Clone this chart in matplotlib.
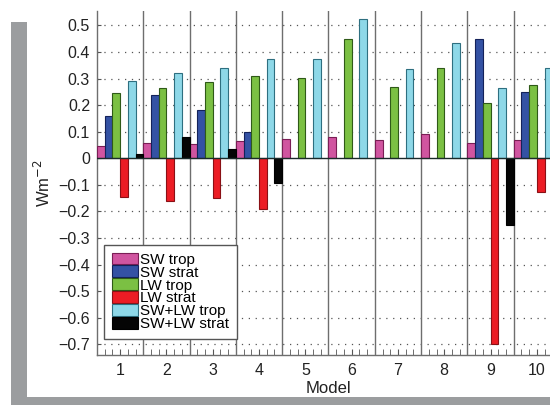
#!/usr/bin/env python3
import numpy as np
import matplotlib
matplotlib.use('Agg')
import matplotlib.pyplot as plt
from matplotlib.patches import Rectangle

plt.rcParams['font.family'] = ['Liberation Sans', 'DejaVu Sans']

# Data (Wm-2), one list per series, models 1..10.
models = [1, 2, 3, 4, 5, 6, 7, 8, 9, 10]
series_names = ['SW trop', 'SW strat', 'LW trop', 'LW strat', 'SW+LW trop', 'SW+LW strat']
sw_trop = [0.047, 0.059, 0.054, 0.064, 0.074, 0.080, 0.067, 0.092, 0.057, 0.067]
sw_strat = [0.159, 0.239, 0.181, 0.099, np.nan, np.nan, np.nan, np.nan, 0.447, 0.249]
lw_trop = [0.246, 0.264, 0.287, 0.311, 0.301, 0.447, 0.267, 0.341, 0.209, 0.276]
lw_strat = [-0.146, -0.160, -0.148, -0.192, np.nan, np.nan, np.nan, np.nan, -0.700, -0.126]
swlw_trop = [0.291, 0.320, 0.340, 0.375, 0.375, 0.525, 0.334, 0.432, 0.264, 0.341]
swlw_strat = [0.015, 0.079, 0.035, -0.093, np.nan, np.nan, np.nan, np.nan, -0.251, 0.020]

fills = ['#d055a0', '#3452a4', '#7bc043', '#ec1c24', '#8ed8e8', '#050505']
edges = ['#7a1e55', '#14225a', '#2f5a18', '#8a1015', '#2e6f80', '#000000']

fig = plt.figure(figsize=(5.5, 4.05), dpi=100)

# Grey frame round the panel (left strip and bottom strip).
fig.patches.append(Rectangle((11 / 550, 0), 16 / 550, 1 - 22 / 405, transform=fig.transFigure,
                             facecolor='#9b9d9f', edgecolor='none', zorder=0))
fig.patches.append(Rectangle((11 / 550, 0), 1, 8 / 405, transform=fig.transFigure,
                             facecolor='#9b9d9f', edgecolor='none', zorder=0))

ax = fig.add_axes([97 / 550, 50 / 405, 463 / 550, 344 / 405])
ax.patch.set_alpha(0)

all_series = [sw_trop, sw_strat, lw_trop, lw_strat, swlw_trop, swlw_strat]
nbar = len(all_series)
w = 1.0 / nbar
x = np.array(models, dtype=float)
for j, vals in enumerate(all_series):
   pos = x - 0.5 + (j + 0.5) * w
   ax.bar(pos, vals, width=w, color=fills[j], edgecolor=edges[j], linewidth=0.8,
          label=series_names[j], zorder=3)

ax.set_xlim(0.5, 10.5)
ax.set_ylim(-0.74, 0.554)

# Dotted horizontal grid, solid vertical separators between models.
yticks = np.round(np.arange(-0.7, 0.55, 0.1), 1)
for yv in yticks:
   if abs(yv) < 1e-6:
      continue
   ax.axhline(yv, color='#555555', linestyle=(0, (1, 4.5)), linewidth=0.9, zorder=1)
ax.axhline(0, color='#1a2a2a', linewidth=1.0, zorder=4)
for xv in np.arange(1.5, 10.5, 1.0):
   ax.axvline(xv, color='#6e6e6e', linewidth=1.0, zorder=2)

ax.set_yticks(yticks)
ax.set_yticklabels([('%g' % v).replace('-', '\u2212') if abs(v) > 1e-9 else '0' for v in yticks])
ax.set_xticks(models)
minor = [m - 0.5 + k * w for m in models for k in (1, 2, 4, 5)]
ax.set_xticks(minor, minor=True)
ax.tick_params(axis='both', which='both', direction='in', colors='#555555', labelcolor='#222222',
               labelsize=11.5)
ax.tick_params(axis='x', which='major', length=4, pad=6)
ax.tick_params(axis='x', which='minor', length=4)
ax.tick_params(axis='y', which='major', length=3, pad=5)

for side in ['top', 'right']:
   ax.spines[side].set_visible(False)
for side in ['left', 'bottom']:
   ax.spines[side].set_color('#6e6e6e')
   ax.spines[side].set_linewidth(1.0)

ax.set_xlabel('Model', fontsize=12, color='#222222', labelpad=2)
ax.set_ylabel('Wm$^{-2}$', fontsize=12, color='#222222', labelpad=4)

leg = ax.legend(loc='lower left', bbox_to_anchor=(7 / 463, 16 / 344), borderaxespad=0,
                fontsize=11, fancybox=False, edgecolor='#555555', framealpha=1,
                labelspacing=-0.08, handlelength=1.7, handleheight=0.8, handletextpad=0.15,
                borderpad=0.5)
leg.get_frame().set_linewidth(1.0)
leg.set_zorder(5)

fig.savefig('out.png', dpi=100)
